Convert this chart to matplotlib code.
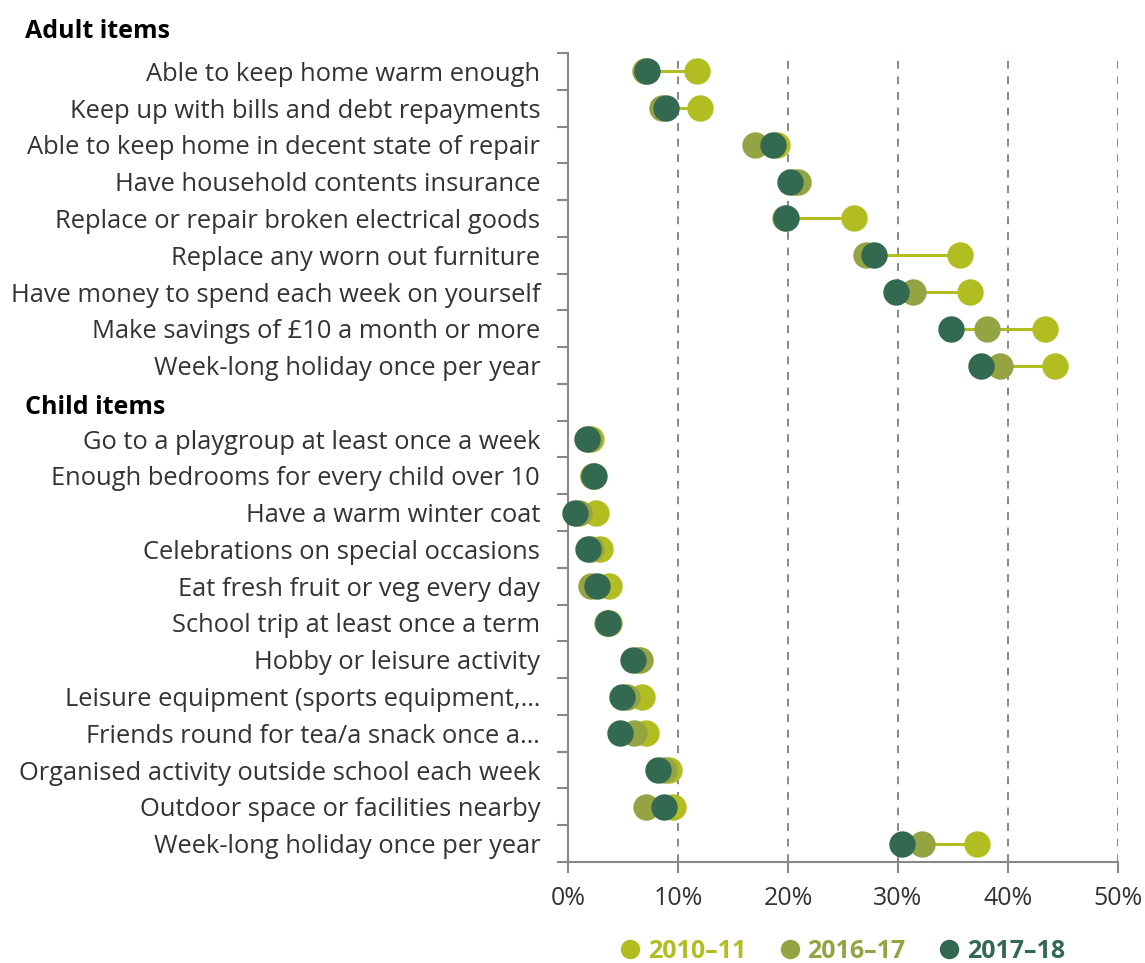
import matplotlib
matplotlib.use("Agg")
import matplotlib.pyplot as plt
from matplotlib.lines import Line2D
from matplotlib.ticker import FixedLocator, FuncFormatter

plt.rcParams['font.family'] = ['Open Sans', 'DejaVu Sans']

adult_items = [
    "Able to keep home warm enough",
    "Keep up with bills and debt repayments",
    "Able to keep home in decent state of repair",
    "Have household contents insurance",
    "Replace or repair broken electrical goods",
    "Replace any worn out furniture",
    "Have money to spend each week on yourself",
    "Make savings of £10 a month or more",
    "Week-long holiday once per year",
]
adult_2010 = [11.7, 12.0, 19.0, 20.6, 26.0, 35.6, 36.5, 43.4, 44.3]
adult_2016 = [7.0, 8.5, 17.0, 20.9, 19.7, 27.1, 31.4, 38.1, 39.3]
adult_2017 = [7.2, 8.9, 18.6, 20.2, 19.8, 27.8, 29.8, 34.8, 37.5]

child_items = [
    "Go to a playgroup at least once a week",
    "Enough bedrooms for every child over 10",
    "Have a warm winter coat",
    "Celebrations on special occasions",
    "Eat fresh fruit or veg every day",
    "School trip at least once a term",
    "Hobby or leisure activity",
    "Leisure equipment (sports equipment,…",
    "Friends round for tea/a snack once a…",
    "Organised activity outside school each week",
    "Outdoor space or facilities nearby",
    "Week-long holiday once per year",
]
child_2010 = [2.1, 2.25, 2.5, 2.9, 3.7, 3.75, 6.4, 6.75, 7.1, 9.2, 9.5, 37.2]
child_2016 = [1.9, 2.3, 1.0, 2.1, 2.1, 3.55, 6.5, 5.4, 6.0, 8.7, 7.1, 32.2]
child_2017 = [1.7, 2.35, 0.6, 1.8, 2.6, 3.66, 5.9, 4.9, 4.75, 8.2, 8.7, 30.4]

series_names = ["2010–11", "2016–17", "2017–18"]
colors = ["#b1bd21", "#94a443", "#336950"]
x_ticks = [0, 10, 20, 30, 40, 50]

FS = 18
LFS = 18.4

# Build rows: adult items, blank header row for child items, child items
labels = adult_items + [""] + child_items
vals = [adult_2010 + [None] + child_2010,
        adult_2016 + [None] + child_2016,
        adult_2017 + [None] + child_2017]

fig = plt.figure(figsize=(11.45, 9.63), dpi=100)
ax = fig.add_axes([568/1145, 1 - 862/963, (1118-568)/1145, (862-53)/963])

n = len(labels)
ypos = list(range(n))

# connecting lines
for i in ypos:
    vs = [v[i] for v in vals if v[i] is not None]
    if vs:
        ax.plot([min(vs), max(vs)], [i, i], color=colors[0], lw=2.2,
                solid_capstyle='butt', zorder=2)

for k in range(3):
    xs = [v for v in vals[k] if v is not None]
    ys = [i for i, v in zip(ypos, vals[k]) if v is not None]
    ax.plot(xs, ys, 'o', color=colors[k], markersize=19, markeredgewidth=0,
            zorder=3 + k, clip_on=False)

ax.set_xlim(0, 50)
ax.set_ylim(n - 0.5, -0.5)

ax.set_yticks(ypos)
ax.set_yticklabels(labels, fontsize=LFS, color="#333333")
ax.yaxis.set_minor_locator(FixedLocator([i - 0.5 for i in range(n + 1)]))
ax.tick_params(axis='y', which='major', length=0, pad=20)
ax.tick_params(axis='y', which='minor', length=8, width=1.5, color="#888888")

ax.set_xticks(x_ticks)
ax.xaxis.set_major_formatter(FuncFormatter(lambda v, p: f"{int(v)}%"))
ax.tick_params(axis='x', length=8, width=1.5, color="#888888", labelsize=FS,
               labelcolor="#333333", pad=9)

for s in ['top', 'right']:
    ax.spines[s].set_visible(False)
for s in ['left', 'bottom']:
    ax.spines[s].set_color("#888888")
    ax.spines[s].set_linewidth(1.5)

ax.grid(axis='x', color="#888888", linestyle=(0, (4, 4)), linewidth=1.4)
ax.set_axisbelow(True)
for gl in ax.get_xgridlines()[:1]:
    gl.set_visible(False)

# Group headers
fig.text(25/1145, 1 - 31/963, "Adult items", fontsize=FS, fontweight='bold',
         color='black', ha='left', va='center')
fig.text(25/1145, 1 - 407/963, "Child items", fontsize=FS, fontweight='bold',
         color='black', ha='left', va='center')

# legend
handles = [Line2D([], [], marker='o', linestyle='none', color=c, markersize=14,
                  markeredgewidth=0) for c in colors]
leg = fig.legend(handles, series_names, loc='center', ncol=3,
                 bbox_to_anchor=(842/1145, 1 - 951/963), frameon=False,
                 handletextpad=0.25, columnspacing=1.3, handlelength=0.9,
                 prop={'size': FS, 'weight': 'bold'})
for t, c in zip(leg.get_texts(), colors):
    t.set_color(c)

fig.savefig("out.png", dpi=100)
